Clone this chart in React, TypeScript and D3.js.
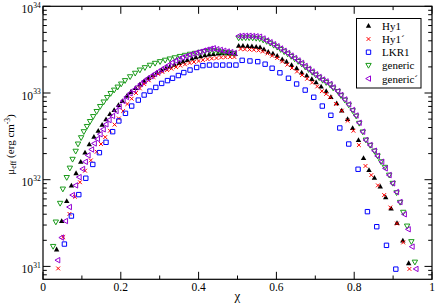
import * as React from 'react';
import * as d3 from 'd3';

// chi and mu_eff (erg cm^-3), left branch then right branch

const hy1Chi = [0.035, 0.048, 0.061, 0.073, 0.085, 0.097, 0.108, 0.119, 0.131, 0.142, 0.152, 0.162, 0.172, 0.183, 0.194, 0.204, 0.216, 0.226, 0.238, 0.249, 0.260, 0.271, 0.283, 0.293, 0.305, 0.316, 0.326, 0.338, 0.350, 0.360, 0.371, 0.383, 0.393, 0.405, 0.416, 0.427, 0.438, 0.450, 0.460, 0.472, 0.483, 0.494,
    0.503, 0.514, 0.526, 0.537, 0.548, 0.558, 0.568, 0.579, 0.591, 0.602, 0.615, 0.626, 0.639, 0.652, 0.665, 0.678, 0.691, 0.702, 0.715, 0.728, 0.740, 0.755, 0.768, 0.783, 0.796, 0.811, 0.824, 0.838, 0.852, 0.867, 0.881, 0.895, 0.910, 0.925, 0.940];
const hy1Mu = [1.57e31, 3.34e31, 5.68e31, 8.57e31, 1.19e32, 1.61e32, 2.06e32, 2.56e32, 3.13e32, 3.67e32, 4.31e32, 4.97e32, 5.73e32, 6.37e32, 7.27e32, 8.1e32, 9.3e32, 1.03e33, 1.14e33, 1.25e33, 1.37e33, 1.49e33, 1.61e33, 1.72e33, 1.83e33, 1.93e33, 2.02e33, 2.12e33, 2.22e33, 2.31e33, 2.40e33, 2.50e33, 2.58e33, 2.65e33, 2.72e33, 2.78e33, 2.82e33, 2.86e33, 2.87e33, 2.87e33, 2.86e33, 2.82e33,
    3.51e33, 3.51e33, 3.48e33, 3.46e33, 3.42e33, 3.37e33, 3.19e33, 2.99e33, 2.86e33, 2.69e33, 2.45e33, 2.30e33, 2.10e33, 1.93e33, 1.72e33, 1.59e33, 1.45e33, 1.33e33, 1.19e33, 1.05e33, 9.0e32, 7.6e32, 6.28e32, 5.0e32, 3.95e32, 2.87e32, 1.78e32, 1.29e32, 1.05e32, 8.34e31, 6.27e31, 4.66e31, 3.17e31, 1.99e31, 1.09e31];

const hy1pChi = [0.039, 0.052, 0.068, 0.082, 0.095, 0.108, 0.123, 0.138, 0.149, 0.160, 0.172, 0.184, 0.195, 0.206, 0.217, 0.228, 0.239, 0.249, 0.260, 0.272, 0.284, 0.296, 0.307, 0.319, 0.330, 0.342, 0.353, 0.365, 0.377, 0.388, 0.400, 0.411, 0.423, 0.434, 0.446, 0.458, 0.469, 0.481, 0.492,
    0.508, 0.519, 0.531, 0.542, 0.554, 0.565, 0.577, 0.589, 0.602, 0.615, 0.628, 0.640, 0.653, 0.666, 0.679, 0.692, 0.705, 0.717, 0.728, 0.738, 0.753, 0.768, 0.783, 0.798, 0.812, 0.829, 0.844, 0.861, 0.877, 0.893, 0.910, 0.926, 0.942];
const hy1pMu = [9.47e30, 2.18e31, 4.03e31, 6.37e31, 9.35e31, 1.27e32, 1.67e32, 2.10e32, 2.58e32, 3.10e32, 3.67e32, 4.32e32, 5.08e32, 6.2e32, 7.47e32, 8.6e32, 1.0e33, 1.13e33, 1.27e33, 1.40e33, 1.53e33, 1.66e33, 1.75e33, 1.84e33, 1.91e33, 1.99e33, 2.07e33, 2.14e33, 2.22e33, 2.28e33, 2.34e33, 2.40e33, 2.46e33, 2.50e33, 2.53e33, 2.57e33, 2.59e33, 2.60e33, 2.60e33,
    3.22e33, 3.19e33, 3.17e33, 3.15e33, 3.10e33, 3.01e33, 2.86e33, 2.69e33, 2.53e33, 2.31e33, 2.12e33, 1.94e33, 1.77e33, 1.61e33, 1.46e33, 1.32e33, 1.19e33, 1.05e33, 9.76e32, 8.93e32, 7.47e32, 6.25e32, 4.79e32, 3.67e32, 2.51e32, 1.44e32, 1.13e32, 8.6e31, 6.65e31, 4.78e31, 3.12e31, 1.89e31, 9.35e30];

const lkr1Chi = [0.055, 0.073, 0.092, 0.110, 0.128, 0.145, 0.162, 0.179, 0.195, 0.212, 0.228, 0.245, 0.260, 0.275, 0.290, 0.305, 0.320, 0.333, 0.348, 0.362, 0.378, 0.395, 0.411, 0.428, 0.445, 0.462, 0.479, 0.496,
    0.512, 0.532, 0.552, 0.571, 0.589, 0.609, 0.631, 0.652, 0.674, 0.696, 0.718, 0.740, 0.763, 0.786, 0.810, 0.834, 0.858, 0.883, 0.907];
const lkr1Mu = [1.81e31, 3.81e31, 6.73e31, 1.04e32, 1.50e32, 2.05e32, 2.70e32, 3.58e32, 4.76e32, 5.83e32, 7.07e32, 8.28e32, 9.48e32, 1.05e33, 1.16e33, 1.29e33, 1.39e33, 1.48e33, 1.59e33, 1.72e33, 1.84e33, 1.97e33, 2.07e33, 2.10e33, 2.10e33, 2.10e33, 2.10e33, 2.10e33,
    2.38e33, 2.34e33, 2.30e33, 2.15e33, 1.93e33, 1.71e33, 1.48e33, 1.27e33, 1.08e33, 8.93e32, 7.07e32, 5.53e32, 3.95e32, 2.58e32, 1.32e32, 4.28e31, 2.87e31, 1.75e31, 9.3e30];

const genericChi = [0.026, 0.033, 0.044, 0.051, 0.061, 0.069, 0.076, 0.084, 0.090, 0.098, 0.105, 0.113, 0.121, 0.129, 0.138, 0.147, 0.156, 0.165, 0.174, 0.183, 0.192, 0.201, 0.211, 0.224, 0.237, 0.249, 0.262, 0.275, 0.288, 0.301, 0.314, 0.326, 0.339, 0.352, 0.365, 0.378, 0.391, 0.404, 0.416, 0.429, 0.440, 0.450, 0.460, 0.470, 0.481, 0.491,
    0.503, 0.512, 0.521, 0.530, 0.539, 0.548, 0.557, 0.566, 0.575, 0.584, 0.593, 0.602, 0.611, 0.620, 0.629, 0.638, 0.647, 0.656, 0.665, 0.674, 0.683, 0.692, 0.701, 0.710, 0.719, 0.728, 0.738, 0.746, 0.758, 0.766, 0.776, 0.786, 0.796, 0.805, 0.813, 0.822, 0.830, 0.841, 0.852, 0.860, 0.869, 0.879, 0.890, 0.899, 0.909, 0.918, 0.926, 0.936, 0.947, 0.956];
const genericMu = [1.70e31, 3.25e31, 5.34e31, 7.8e31, 1.06e32, 1.36e32, 1.72e32, 2.13e32, 2.58e32, 3.05e32, 3.58e32, 4.11e32, 4.69e32, 5.35e32, 6.12e32, 6.99e32, 7.88e32, 8.87e32, 9.87e32, 1.08e33, 1.17e33, 1.27e33, 1.39e33, 1.54e33, 1.69e33, 1.84e33, 1.96e33, 2.09e33, 2.20e33, 2.30e33, 2.39e33, 2.47e33, 2.55e33, 2.64e33, 2.72e33, 2.80e33, 2.87e33, 2.95e33, 3.01e33, 3.05e33, 3.08e33, 3.03e33, 2.97e33, 2.93e33, 2.89e33, 2.86e33,
    4.31e33, 4.33e33, 4.33e33, 4.33e33, 4.31e33, 4.27e33, 4.22e33, 4.08e33, 3.93e33, 3.75e33, 3.55e33, 3.37e33, 3.17e33, 2.99e33, 2.82e33, 2.64e33, 2.47e33, 2.31e33, 2.16e33, 1.99e33, 1.86e33, 1.73e33, 1.61e33, 1.50e33, 1.40e33, 1.32e33, 1.24e33, 1.14e33, 1.04e33, 9.32e32, 8.28e32, 7.27e32, 6.25e32, 5.42e32, 4.47e32, 3.55e32, 2.87e32, 2.49e32, 2.14e32, 1.88e32, 1.61e32, 1.39e32, 1.13e32, 9.08e31, 7.07e31, 5.48e31, 4.21e31, 2.92e31, 1.93e31, 1.12e31];

const genericpChi = [0.038, 0.048, 0.058, 0.068, 0.076, 0.084, 0.093, 0.102, 0.109, 0.116, 0.125, 0.132, 0.140, 0.147, 0.155, 0.162, 0.170, 0.179, 0.188, 0.196, 0.206, 0.215, 0.224, 0.233, 0.242, 0.251, 0.260, 0.269, 0.278, 0.287, 0.296, 0.305, 0.314, 0.323, 0.332, 0.341, 0.350, 0.359, 0.368, 0.377, 0.386, 0.395, 0.404, 0.413, 0.422, 0.431, 0.438, 0.447, 0.456, 0.465, 0.474, 0.483, 0.492,
    0.503, 0.512, 0.521, 0.530, 0.539, 0.548, 0.557, 0.566, 0.575, 0.584, 0.593, 0.602, 0.611, 0.620, 0.629, 0.638, 0.647, 0.656, 0.665, 0.674, 0.683, 0.692, 0.701, 0.710, 0.719, 0.728, 0.738, 0.746, 0.758, 0.766, 0.776, 0.786, 0.796, 0.805, 0.813, 0.822, 0.830, 0.841, 0.852, 0.860, 0.871, 0.880, 0.890, 0.899, 0.909, 0.918, 0.929, 0.939, 0.949, 0.959];
const genericpMu = [1.18e31, 2.15e31, 3.34e31, 4.84e31, 6.65e31, 8.6e31, 1.07e32, 1.33e32, 1.61e32, 1.91e32, 2.23e32, 2.62e32, 2.95e32, 3.34e32, 3.81e32, 4.35e32, 4.88e32, 5.43e32, 6.2e32, 6.99e32, 8.09e32, 8.99e32, 9.92e32, 1.08e33, 1.17e33, 1.27e33, 1.37e33, 1.47e33, 1.56e33, 1.66e33, 1.76e33, 1.87e33, 1.98e33, 2.10e33, 2.24e33, 2.36e33, 2.47e33, 2.57e33, 2.66e33, 2.74e33, 2.83e33, 2.92e33, 2.99e33, 3.08e33, 3.16e33, 3.23e33, 3.28e33, 3.20e33, 3.14e33, 3.07e33, 3.01e33, 2.96e33, 2.89e33,
    4.54e33, 4.57e33, 4.57e33, 4.57e33, 4.54e33, 4.51e33, 4.46e33, 4.25e33, 4.03e33, 3.85e33, 3.65e33, 3.46e33, 3.26e33, 3.07e33, 2.89e33, 2.70e33, 2.53e33, 2.37e33, 2.22e33, 2.05e33, 1.90e33, 1.77e33, 1.64e33, 1.53e33, 1.43e33, 1.36e33, 1.27e33, 1.16e33, 1.05e33, 9.48e32, 8.43e32, 7.39e32, 6.37e32, 5.50e32, 4.54e32, 3.58e32, 2.87e32, 2.51e32, 2.16e32, 1.88e32, 1.61e32, 1.35e32, 1.13e32, 9.08e31, 7.21e31, 5.53e31, 3.99e31, 2.68e31, 1.69e31, 9.35e30];

const xTickValues = [0, 0.2, 0.4, 0.6, 0.8, 1];
const xTickLabels = ['0', '0.2', '0.4', '0.6', '0.8', '1'];
const yTickValues = [1e31, 1e32, 1e33, 1e34];
const yTickExponents = ['31', '32', '33', '34'];
const legendLabels = ['Hy1', 'Hy1\u00b4', 'LKR1', 'generic', 'generic\u00b4'];

type Point = {
    chi: number,
    mu: number,
}

const zip = (chi: number[], mu: number[]): Point[] => chi.map((c, i) => ({ chi: c, mu: mu[i] }));

// marker shapes, centred on 0,0
const triUp = 'M0,-2.8L2.7,2L-2.7,2Z';
const triDown = 'M0,2.8L2.7,-2L-2.7,-2Z';
const triLeft = 'M-2.8,0L2,-2.7L2,2.7Z';
const square = 'M-2.2,-2.2h4.4v4.4h-4.4Z';
const cross = 'M-1.9,-1.9L1.9,1.9M-1.9,1.9L1.9,-1.9';

const series = [
    { data: zip(hy1Chi, hy1Mu), shape: triUp, fill: '#000000', stroke: 'none' },
    { data: zip(hy1pChi, hy1pMu), shape: cross, fill: 'none', stroke: '#ff0000' },
    { data: zip(lkr1Chi, lkr1Mu), shape: square, fill: 'none', stroke: '#0000ff' },
    { data: zip(genericChi, genericMu), shape: triDown, fill: 'none', stroke: '#1a9a1a' },
    { data: zip(genericpChi, genericpMu), shape: triLeft, fill: 'none', stroke: '#9400d3' },
];

const FONT = 'Liberation Serif, Times New Roman, serif';

class MuChart extends React.Component<{}, {}> {
    private chartRef: React.RefObject<SVGSVGElement> = React.createRef();
    private dim = {
        width: 436,
        height: 304,
        left: 43,
        right: 432,
        top: 6.3,
        bottom: 279.3,
    }

    componentDidMount() {
        const svg = d3.select(this.chartRef.current);
        svg.selectAll('*').remove();
        const { left, right, top, bottom } = this.dim;

        const xScale = d3.scaleLinear().domain([0, 1]).range([left, right]);
        const yScale = d3.scaleLog().domain([7.1e30, 1e34]).range([bottom, top]);

        svg.append('rect')
            .attr('width', this.dim.width)
            .attr('height', this.dim.height)
            .attr('fill', '#ffffff');

        // ticks, all pointing inward on every side
        const ticks = svg.append('g').attr('stroke', '#000').attr('stroke-width', 1);
        const xMinor = d3.range(0.1, 1, 0.2);
        xTickValues.forEach(v => {
            const x = xScale(v);
            ticks.append('line').attr('x1', x).attr('x2', x).attr('y1', bottom).attr('y2', bottom - 7.5);
            ticks.append('line').attr('x1', x).attr('x2', x).attr('y1', top).attr('y2', top + 7.5);
        });
        xMinor.forEach(v => {
            const x = xScale(v);
            ticks.append('line').attr('x1', x).attr('x2', x).attr('y1', bottom).attr('y2', bottom - 3.8);
            ticks.append('line').attr('x1', x).attr('x2', x).attr('y1', top).attr('y2', top + 3.8);
        });
        const yMinor = yScale.ticks().filter(v => yTickValues.indexOf(v) < 0);
        yTickValues.forEach(v => {
            const y = yScale(v);
            ticks.append('line').attr('x1', left).attr('x2', left + 7.5).attr('y1', y).attr('y2', y);
            ticks.append('line').attr('x1', right).attr('x2', right - 7.5).attr('y1', y).attr('y2', y);
        });
        yMinor.forEach(v => {
            const y = yScale(v);
            ticks.append('line').attr('x1', left).attr('x2', left + 3.8).attr('y1', y).attr('y2', y);
            ticks.append('line').attr('x1', right).attr('x2', right - 3.8).attr('y1', y).attr('y2', y);
        });

        // data markers
        series.forEach(s => {
            svg.append('g')
                .selectAll('path')
                .data(s.data)
                .join('path')
                .attr('transform', d => `translate(${xScale(d.chi)},${yScale(d.mu)})`)
                .attr('d', s.shape)
                .attr('fill', s.fill)
                .attr('stroke', s.stroke)
                .attr('stroke-width', 1);
        });

        // frame
        svg.append('rect')
            .attr('x', left)
            .attr('y', top)
            .attr('width', right - left)
            .attr('height', bottom - top)
            .attr('fill', 'none')
            .attr('stroke', '#000')
            .attr('stroke-width', 1.2);

        // x tick labels
        svg.append('g')
            .selectAll('text')
            .data(xTickValues)
            .join('text')
            .attr('x', d => xScale(d))
            .attr('y', bottom + 11.5)
            .attr('text-anchor', 'middle')
            .attr('font-family', FONT)
            .attr('font-size', 11.5)
            .text((d, i) => xTickLabels[i]);

        // y tick labels 10^n
        const yl = svg.append('g').attr('font-family', FONT);
        yTickValues.forEach((v, i) => {
            const y = yScale(v);
            yl.append('text')
                .attr('x', 33)
                .attr('y', y + 6.5)
                .attr('text-anchor', 'end')
                .attr('font-size', 11.5)
                .text('10');
            yl.append('text')
                .attr('x', 33.3)
                .attr('y', y + 1.2)
                .attr('font-size', 7.5)
                .text(yTickExponents[i]);
        });

        // axis titles
        svg.append('text')
            .attr('x', xScale(0.5))
            .attr('y', 300)
            .attr('text-anchor', 'middle')
            .attr('font-family', FONT)
            .attr('font-size', 13)
            .text('\u03c7');

        const yt = svg.append('text')
            .attr('transform', 'translate(13.5,144.5) rotate(-90)')
            .attr('text-anchor', 'middle')
            .attr('font-family', FONT)
            .attr('font-size', 11);
        yt.append('tspan').text('\u03bc');
        yt.append('tspan').attr('font-size', 7.5).attr('dy', 2.5).text('eff');
        yt.append('tspan').attr('dy', -2.5).text(' (erg cm');
        yt.append('tspan').attr('font-size', 7.5).attr('dy', -4).text('-3');
        yt.append('tspan').attr('dy', 4).text(')');

        // legend
        const lg = svg.append('g');
        lg.append('rect')
            .attr('x', 356.5)
            .attr('y', 18.5)
            .attr('width', 64.5)
            .attr('height', 69.5)
            .attr('fill', '#fff')
            .attr('stroke', '#000')
            .attr('stroke-width', 1);
        const ly = d3.scalePoint<number>().domain(d3.range(legendLabels.length)).range([25.8, 78.6]);
        series.forEach((s, i) => {
            const y = ly(i)!;
            lg.append('path')
                .attr('transform', `translate(368.5,${y})`)
                .attr('d', s.shape)
                .attr('fill', s.fill)
                .attr('stroke', s.stroke)
                .attr('stroke-width', 1);
            lg.append('text')
                .attr('x', 382)
                .attr('y', y + 4)
                .attr('font-family', FONT)
                .attr('font-size', 11)
                .text(legendLabels[i]);
        });
    }

    render() {
        return (
            <svg ref={this.chartRef}
                width={this.dim.width}
                height={this.dim.height}
                style={{ position: 'absolute', left: 0, top: 0 }}>
            </svg>
        );
    }
}

export default function App() {
    return <MuChart />;
}
